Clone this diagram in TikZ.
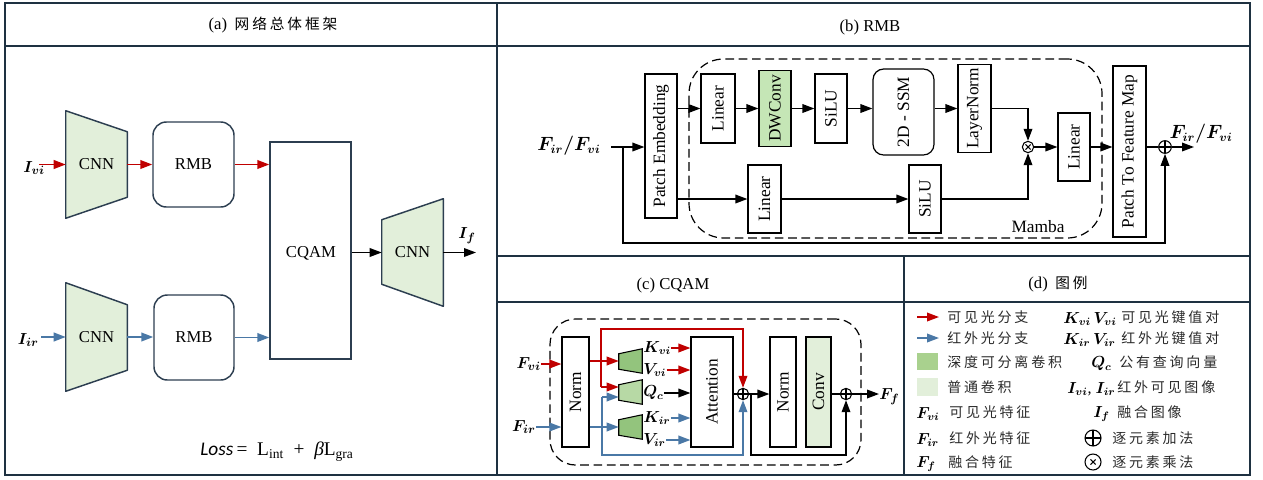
\documentclass[tikz,border=0pt]{standalone}
\usepackage{fontspec}
\usepackage{bm}
\setmainfont{Liberation Serif}
\newfontfamily\cjk[LetterSpace=20]{Noto Sans CJK SC}
\newfontfamily\lossfont{Carlito}
\usetikzlibrary{arrows.meta,backgrounds,fit,calc}

\definecolor{frame}{HTML}{1E3141}
\definecolor{aedge}{HTML}{2C3E50}
\definecolor{cnnfill}{HTML}{E2EFDA}
\definecolor{redb}{HTML}{C00000}
\definecolor{blueb}{HTML}{4A78A6}
\definecolor{dwfill}{HTML}{C5E6B6}
\definecolor{dsep}{HTML}{93C47D}
\definecolor{qfill}{HTML}{B7D9A5}
\definecolor{swdeep}{HTML}{A9D18E}
\definecolor{cjkgray}{HTML}{2A2A2A}

\newcommand{\fs}[1]{\fontsize{#1}{#1}\selectfont}

\begin{document}
\begin{tikzpicture}[x=0.75pt,y=-0.75pt,
  fr/.style={draw=frame,line width=1.3pt},
  ttl/.style={inner sep=0,font=\fs{12.5}},
  inv/.style={inner sep=0,font=\fs{12.5}},
  trap/.style={draw=aedge,fill=cnnfill,line width=1.1pt,line join=round},
  rbox/.style={draw=aedge,line width=1.1pt,rounded corners=10pt,inner sep=0},
  abox/.style={draw=aedge,line width=1.1pt,inner sep=0},
  bx/.style={draw=black,line width=0.9pt,inner sep=0},
  rt/.style={rotate=90,inner sep=0,font=\fs{13}},
  tip/.style={-{Triangle[length=9pt,width=6.5pt]}},
  arr/.style={tip,line width=1pt},
  rarr/.style={tip,draw=redb,line width=1.4pt},
  barr/.style={tip,draw=blueb,line width=1.4pt},
  rcarr/.style={tip,draw=redb,line width=1.1pt},
  bcarr/.style={tip,draw=blueb,line width=1.1pt},
  mlab/.style={inner sep=0,font=\fs{13}},
  klab/.style={inner sep=0,font=\fs{11.5}},
  grp/.style={draw=black,line width=0.9pt,dash pattern=on 6.5pt off 3.5pt,inner sep=0},
  op/.style={circle,draw,line width=0.8pt,minimum size=8.5pt,inner sep=0,
    path picture={\draw[line width=0.8pt] (path picture bounding box.north) -- (path picture bounding box.south)
      (path picture bounding box.west) -- (path picture bounding box.east);}},
  ot/.style={circle,draw,line width=0.8pt,minimum size=8.5pt,inner sep=0,
    path picture={\draw[line width=0.8pt]
      ($(path picture bounding box.center)+(-2.6,-2.6)$) -- ($(path picture bounding box.center)+(2.6,2.6)$)
      ($(path picture bounding box.center)+(-2.6,2.6)$) -- ($(path picture bounding box.center)+(2.6,-2.6)$);}},
  leg/.style={inner sep=0,anchor=west,font=\fs{10.5}\cjk,text=cjkgray},
  legm/.style={inner sep=0,anchor=west,font=\fs{12}}
]
\useasboundingbox (0,0) rectangle (1263,479);

% ---------- panel frames ----------
\draw[fr] (5,3) rectangle (1250,475);
\draw[fr] (497,3) -- (497,475);
\draw[fr] (5,46) -- (1250,46);
\draw[fr] (497,256) -- (1250,256);
\draw[fr] (497,302) -- (1250,302);
\draw[fr] (904,256) -- (904,475);

\node[ttl] (ta) at (273,25) {(a)\hspace{0.45em}{\fs{11}\cjk 网络总体框架}};
\node[ttl] (tb) at (870,27) {(b) RMB};
\node[ttl] (tc) at (673,285) {(c) CQAM};
\node[ttl] (td) at (1058,284) {(d)\hspace{0.45em}{\fs{11}\cjk 图例}};

% ---------- (a) overall network ----------
\node[inv,fit={(66,111)(127,218)}] (cnn1) {};
\node[inv,fit={(66,283)(127,391)}] (cnn2) {};
\node[inv,fit={(382,199)(443,306)}] (cnn3) {};
\begin{pgfonlayer}{background}
\draw[trap] (cnn1.north west) -- ($(cnn1.north east)+(0,21)$) -- ($(cnn1.south east)+(0,-21)$) -- (cnn1.south west) -- cycle;
\draw[trap] (cnn2.north west) -- ($(cnn2.north east)+(0,22)$) -- ($(cnn2.south east)+(0,-21)$) -- (cnn2.south west) -- cycle;
\draw[trap] ($(cnn3.north west)+(0,21)$) -- (cnn3.north east) -- (cnn3.south east) -- ($(cnn3.south west)+(0,-22)$) -- cycle;
\end{pgfonlayer}
\node[inv] (cnn1t) at (cnn1.center) {CNN};
\node[inv] (cnn2t) at (cnn2.center) {CNN};
\node[inv] (cnn3t) at (cnn3.center) {CNN};

\node[rbox,fit={(153,122)(234,207)}] (rmb1) {};
\node[inv] (rmb1t) at (rmb1.center) {RMB};
\node[rbox,fit={(154,295)(234,380)}] (rmb2) {};
\node[inv] (rmb2t) at (rmb2.center) {RMB};
\node[abox,fit={(270,142)(351,359)}] (cqam) {};
\node[inv] (cqamt) at (311,253) {CQAM};

\node[mlab,anchor=east] (ivi) at (45,168) {$\bm{I_{vi}}$};
\node[mlab,anchor=east] (iir) at (39,340) {$\bm{I_{ir}}$};
\node[mlab] (ifl) at (467,236) {$\bm{I_f}$};
\coordinate (ivis) at (39,164.5);
\coordinate (iirs) at (41,337);
\coordinate (ifo) at (476,252.5);

\draw[rarr] (ivis) -- (ivis -| cnn1.west);
\draw[rarr] (cnn1.east) -- (cnn1.east -| rmb1.west);
\draw[rarr] (rmb1.east) -- (rmb1.east -| cqam.west);
\draw[barr] (iirs) -- (iirs -| cnn2.west);
\draw[barr] (cnn2.east) -- (cnn2.east -| rmb2.west);
\draw[barr] (rmb2.east) -- (rmb2.east -| cqam.west);
\draw[arr] (cqam.east |- cnn3.west) -- (cnn3.west);
\draw[arr] (cnn3.east) -- (ifo);

\node[inner sep=0,font=\fs{14.5}] (loss) at (277,452)
  {{\lossfont\itshape Loss}\,= \ L\textsubscript{int} \ + \ \textit{β}L\textsubscript{gra}};

% ---------- (b) RMB ----------
\node[mlab,font=\fs{13.5}] (fin) at (569,146) {$\bm{F_{ir}/F_{vi}}$};
\coordinate (fins) at (611,147);
\coordinate (fsplit) at (623,147);
\node[grp,rounded corners=26pt,fit={(689,59)(1102,238)}] (mamba) {};
\node[inner sep=0,font=\fs{13}] (mlbl) at (1038,227) {Mamba};

\node[bx,fit={(645,74)(677,218)}] (pe) {};
\node[bx,fit={(701,74)(735,143)}] (lin1) {};
\node[bx,fill=dwfill,fit={(759,70.5)(791,146.5)}] (dw) {};
\node[bx,fit={(815,74)(847,143)}] (silu1) {};
\node[bx,rounded corners=8pt,fit={(873,69)(934,155)}] (ssm) {};
\node[bx,fit={(958,64.5)(991,152.5)}] (ln) {};
\node[ot] (mul) at (1028,147) {};
\node[bx,fit={(748,165)(781,233)}] (lin2) {};
\node[bx,fit={(909,165)(941,233)}] (silu2) {};
\node[bx,fit={(1058,113)(1090,181)}] (lin3) {};
\node[bx,fit={(1113,66)(1146,237)}] (ptfm) {};
\node[op,minimum size=9.5pt] (add) at (1165,147) {};
\node[mlab,font=\fs{13.5}] (fout) at (1201,134) {$\bm{F_{ir}/F_{vi}}$};
\coordinate (bout) at (1194,147);

\node[rt] (pet) at (pe.center) {Patch Embedding};
\node[rt] (lin1t) at (lin1.center) {Linear};
\node[rt] (dwt) at (dw.center) {DWConv};
\node[rt] (silu1t) at (silu1.center) {SiLU};
\node[rt] (ssmt) at (ssm.center) {2D - SSM};
\node[rt] (lnt) at (ln.center) {LayerNorm};
\node[rt] (lin2t) at (lin2.center) {Linear};
\node[rt] (silu2t) at (silu2.center) {SiLU};
\node[rt] (lin3t) at (lin3.center) {Linear};
\node[rt] (ptfmt) at (ptfm.center) {Patch To Feature Map};

\draw[arr] (fins) -- (fins -| pe.west);
\draw[arr] (pe.east |- lin1.west) -- (lin1.west);
\draw[arr] (lin1.east) -- (lin1.east -| dw.west);
\draw[arr] (dw.east) -- (dw.east -| silu1.west);
\draw[arr] (silu1.east) -- (silu1.east -| ssm.west);
\draw[arr] (ssm.east |- ln.west) -- (ln.west);
\draw[arr] (ln.east) -| (mul.north);
\draw[arr] (pe.east |- lin2.west) -- (lin2.west);
\draw[arr] (lin2.east) -- (lin2.east -| silu2.west);
\draw[arr] (silu2.east) -| (mul.south);
\draw[arr] (mul.east) -- (mul.east -| lin3.west);
\draw[arr] (lin3.east) -- (lin3.east -| ptfm.west);
\draw[line width=1pt] (add.west -| ptfm.east) -- (add.west);
\draw[arr] (add.east) -- (bout);
\draw[arr] (fsplit) -- ++(0,96) -| (add.south);

% ---------- (c) CQAM ----------
\node[grp,rounded corners=19pt,fit={(550,319)(861,465)}] (cbox) {};
\node[mlab,anchor=east] (fvi) at (541,364) {$\bm{F_{vi}}$};
\node[mlab,anchor=east] (fir) at (536,427) {$\bm{F_{ir}}$};
\node[bx,fit={(562,337)(589,447)}] (norm1) {};
\node[rt] (norm1t) at (norm1.center) {Norm};

\node[inner sep=0,fit={(619,349)(642,373)}] (tk1) {};
\node[inner sep=0,fit={(619,380)(642,404)}] (tq) {};
\node[inner sep=0,fit={(619,415)(642,439)}] (tk2) {};
\draw[draw=black,fill=dsep,line width=0.8pt] ($(tk1.north west)+(0,5)$) -- (tk1.north east) -- (tk1.south east) -- ($(tk1.south west)+(0,-4)$) -- cycle;
\draw[draw=black,fill=qfill,line width=0.8pt] ($(tq.north west)+(0,5)$) -- (tq.north east) -- (tq.south east) -- ($(tq.south west)+(0,-4)$) -- cycle;
\draw[draw=black,fill=dsep,line width=0.8pt] ($(tk2.north west)+(0,5)$) -- (tk2.north east) -- (tk2.south east) -- ($(tk2.south west)+(0,-4)$) -- cycle;

\node[klab,anchor=west] (kvi) at (643,348) {$\bm{K_{vi}}$};
\node[klab,anchor=west] (vvi) at (643,370) {$\bm{V_{vi}}$};
\node[klab,anchor=west] (qc) at (643,393) {$\bm{Q_c}$};
\node[klab,anchor=west] (kir) at (643,418) {$\bm{K_{ir}}$};
\node[klab,anchor=west] (vir) at (643,440) {$\bm{V_{ir}}$};

\node[bx,fit={(691,337)(733,447)}] (att) {};
\node[rt] (attt) at (att.center) {Attention};
\node[op] (addc1) at (743,394) {};
\node[bx,fit={(770,337)(796,447)}] (norm2) {};
\node[rt] (norm2t) at (norm2.center) {Norm};
\node[bx,fill=cnnfill,fit={(806,337)(831,447)}] (conv) {};
\node[rt] (convt) at (conv.center) {Conv};
\node[op] (addc2) at (846,394) {};
\node[mlab,anchor=west] (ff) at (879,397) {$\bm{F_f}$};

\draw[rcarr] (fvi.east) -- (fvi.east -| norm1.west);
\draw[bcarr] (fir.east) -- (fir.east -| norm1.west);
\draw[rcarr] (norm1.east |- tk1.west) -- (tk1.west);
\coordinate (rv1) at (601,387);
\coordinate (rv0) at (601,329);
\draw[rcarr] (rv1) -- (rv1 -| tq.west);
\draw[rcarr] (rv1) -- (rv0) -| (addc1.north);
\draw[bcarr] (norm1.east |- tk2.west) -- (tk2.west);
\coordinate (bv1) at (602,397);
\draw[bcarr] (bv1) -- (bv1 -| tq.west);
\draw[bcarr] (bv1) -- ++(0,58) -| (addc1.south);

\draw[rcarr] (kvi.east) -- (kvi.east -| att.west);
\draw[rcarr] (vvi.east) -- (vvi.east -| att.west);
\draw[arr] (qc.east) -- (qc.east -| att.west);
\draw[bcarr] (kir.east) -- (kir.east -| att.west);
\draw[bcarr] (vir.east) -- (vir.east -| att.west);

\draw[line width=1pt] (att.east |- addc1.west) -- (addc1.west);
\draw[arr] (addc1.east) -- (addc1.east -| norm2.west);
\coordinate (skc) at (751,394);
\draw[arr] (skc) -- ++(0,61) -| (addc2.south);
\draw[line width=1pt] (conv.east |- addc2.west) -- (addc2.west);
\draw[arr] (addc2.east) -- (addc2.east -| ff.west);

% ---------- (d) legend ----------
\coordinate (lra) at (917,317);
\coordinate (lba) at (917,338);
\draw[rcarr] (lra) -- ++(22,0);
\draw[bcarr] (lba) -- ++(22,0);
\node[inner sep=0,fill=swdeep,fit={(917,353)(938,370)}] (sw1) {};
\node[inner sep=0,fill=cnnfill,fit={(917,378)(938,396)}] (sw2) {};

\node[leg] (l1) at (947,317) {可见光分支};
\node[leg] (l2) at (947,338) {红外光分支};
\node[leg] (l3) at (947,362) {深度可分离卷积};
\node[leg] (l4) at (947,387) {普通卷积};
\node[legm] (m5) at (916,414) {$\bm{F_{vi}}$};
\node[leg] (l5) at (949,412) {可见光特征};
\node[legm] (m6) at (916,440) {$\bm{F_{ir}}$};
\node[leg] (l6) at (949,438) {红外光特征};
\node[legm] (m7) at (916,464) {$\bm{F_f}$};
\node[leg] (l7) at (948,462) {融合特征};

\node[legm] (r1m) at (1063,319) {$\bm{K_{vi}}\,\bm{V_{vi}}$};
\node[leg] (r1) at (1121,317) {可见光键值对};
\node[legm] (r2m) at (1063,340) {$\bm{K_{ir}}\,\bm{V_{ir}}$};
\node[leg] (r2) at (1121,338) {红外光键值对};
\node[legm] (r3m) at (1091,364) {$\bm{Q_c}$};
\node[leg] (r3) at (1119,362) {公有查询向量};
\node[legm] (r4m) at (1067,389) {$\bm{I_{vi}}$, $\bm{I_{ir}}$};
\node[leg] (r4) at (1117,387) {红外可见图像};
\node[legm] (r5m) at (1093,414) {$\bm{I_f}$};
\node[leg] (r5) at (1117,412) {融合图像};
\node[op,minimum size=12pt] (r6s) at (1093,438) {};
\node[leg] (r6) at (1112,438) {逐元素加法};
\node[ot,minimum size=12pt] (r7s) at (1093,462) {};
\node[leg] (r7) at (1112,462) {逐元素乘法};
\end{tikzpicture}
\end{document}
